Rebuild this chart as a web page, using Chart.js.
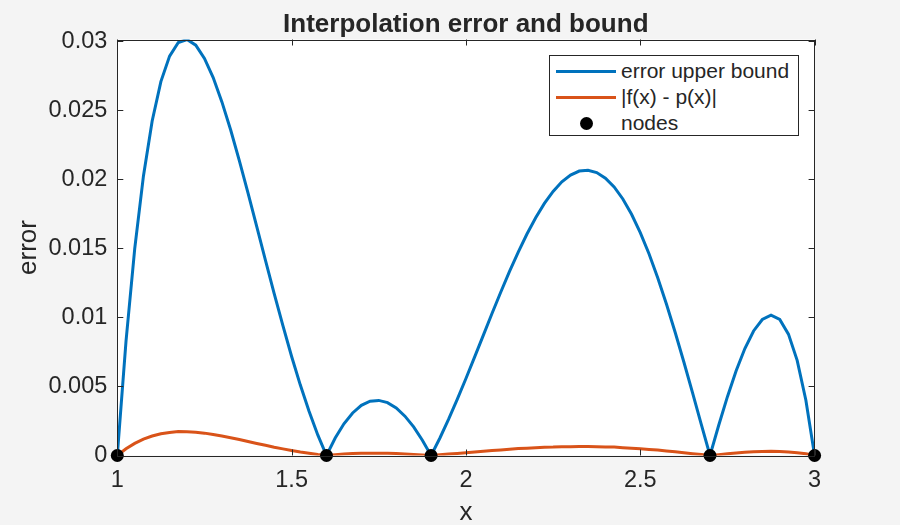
<!DOCTYPE html>
<html>
<head>
<meta charset="utf-8">
<script src="https://cdn.jsdelivr.net/npm/chart.js@4.4.1/dist/chart.umd.min.js"></script>
<style>
  html, body { margin:0; padding:0; background:#f4f4f4; }
  #wrap { position:relative; width:900px; height:525px; background:#f4f4f4; }
  #legend { position:absolute; left:549px; top:55px; width:250px; height:81px; background:#fff;
            border:1px solid #262626; box-sizing:border-box; font-family:"Liberation Sans", Arial, sans-serif;
            font-size:21px; color:#262626; }
  .row { position:absolute; left:0; width:100%; height:26px; }
  .swatch { position:absolute; left:6px; width:60px; height:3px; top:11.5px; }
  .dot { position:absolute; left:30px; width:13px; height:13px; border-radius:50%; background:#000; top:6.5px; }
  .lbl { position:absolute; left:71px; top:0; line-height:26px; white-space:nowrap; }
</style>
</head>
<body>
<div id="wrap">
  <canvas id="c" width="900" height="525"></canvas>
  <div id="legend"></div>
</div>
<script>
const titleText = "Interpolation error and bound";
const xLabel = "x";
const yLabel = "error";
const seriesNames = ["error upper bound", "|f(x) - p(x)|", "nodes"];

const xs = [1.000,1.025,1.050,1.075,1.100,1.125,1.150,1.175,1.200,1.225,1.250,1.275,1.300,1.325,1.350,1.375,1.400,1.425,1.450,1.475,1.500,1.525,1.550,1.575,1.600,1.625,1.650,1.675,1.700,1.725,1.750,1.775,1.800,1.825,1.850,1.875,1.900,1.925,1.950,1.975,2.000,2.025,2.050,2.075,2.100,2.125,2.150,2.175,2.200,2.225,2.250,2.275,2.300,2.325,2.350,2.375,2.400,2.425,2.450,2.475,2.500,2.525,2.550,2.575,2.600,2.625,2.650,2.675,2.700,2.725,2.750,2.775,2.800,2.825,2.850,2.875,2.900,2.925,2.950,2.975,3.000];

const boundVals = [0,0.00829,0.01499,0.02025,0.02423,0.02708,0.02893,0.02991,0.03013,0.02972,0.02876,0.02737,0.02561,0.02359,0.02136,0.01901,0.01658,0.01414,0.01173,0.00940,0.00717,0.00510,0.00320,0.00149,0,0.00127,0.00230,0.00308,0.00363,0.00393,0.00399,0.00383,0.00344,0.00285,0.00207,0.00111,0,0.00125,0.00261,0.00406,0.00558,0.00714,0.00872,0.01030,0.01184,0.01333,0.01473,0.01604,0.01722,0.01826,0.01913,0.01982,0.02031,0.02060,0.02066,0.02049,0.02009,0.01945,0.01858,0.01747,0.01614,0.01461,0.01288,0.01097,0.00893,0.00677,0.00453,0.00226,0,0.00219,0.00426,0.00614,0.00775,0.00902,0.00985,0.01016,0.00985,0.00879,0.00689,0.00400,0];

const errVals = [0,0.00049,0.00088,0.00119,0.00141,0.00158,0.00167,0.00173,0.00172,0.00168,0.00162,0.00152,0.00141,0.00129,0.00116,0.00101,0.00087,0.00074,0.00060,0.00048,0.00036,0.00025,0.00016,0.00007,0,0.00006,0.00011,0.00014,0.00016,0.00017,0.00017,0.00016,0.00014,0.00011,0.00008,0.00004,0,0.00005,0.00010,0.00015,0.00020,0.00025,0.00031,0.00036,0.00040,0.00045,0.00050,0.00053,0.00056,0.00060,0.00061,0.00064,0.00064,0.00065,0.00065,0.00064,0.00062,0.00061,0.00057,0.00053,0.00049,0.00044,0.00039,0.00033,0.00027,0.00020,0.00013,0.00007,0,0.00006,0.00013,0.00018,0.00023,0.00027,0.00029,0.00030,0.00029,0.00026,0.00020,0.00012,0];

const nodeX = [1, 1.6, 1.9, 2.7, 3];
const nodeY = [0, 0, 0, 0, 0];

const xTickValues = [1, 1.5, 2, 2.5, 3];
const xTickLabels = ["1", "1.5", "2", "2.5", "3"];
const yTickValues = [0, 0.005, 0.01, 0.015, 0.02, 0.025, 0.03];
const yTickLabels = ["0", "0.005", "0.01", "0.015", "0.02", "0.025", "0.03"];

const xMin = 1, xMax = 3, yMin = 0, yMax = 0.03013;

const FONT = '"Liberation Sans", Arial, sans-serif';
const TXT = '#262626';
const colors = ['#0072BD', '#D95319', '#000000'];

function pts(xa, ya) { return xa.map((x, i) => ({ x: x, y: ya[i] })); }

const boxPlugin = {
  id: 'box',
  afterDatasetsDraw(chart) {
    const { ctx, chartArea: a, scales } = chart;
    const L = 6;
    ctx.save();
    ctx.strokeStyle = TXT;
    ctx.lineWidth = 1;
    ctx.beginPath();
    xTickValues.forEach(v => {
      const px = Math.round(scales.x.getPixelForValue(v)) + 0.5;
      ctx.moveTo(px, a.bottom); ctx.lineTo(px, a.bottom - L);
      ctx.moveTo(px, a.top); ctx.lineTo(px, a.top + L);
    });
    yTickValues.forEach(v => {
      const py = Math.round(scales.y.getPixelForValue(v)) + 0.5;
      ctx.moveTo(a.left, py); ctx.lineTo(a.left + L, py);
      ctx.moveTo(a.right, py); ctx.lineTo(a.right - L, py);
    });
    ctx.stroke();
    ctx.strokeRect(Math.round(a.left) + 0.5, Math.round(a.top) + 0.5, Math.round(a.right - a.left), Math.round(a.bottom - a.top));
    ctx.restore();
  },
  beforeDraw(chart) {
    const { ctx, chartArea: a } = chart;
    ctx.save();
    ctx.fillStyle = '#f4f4f4';
    ctx.fillRect(0, 0, chart.width, chart.height);
    ctx.fillStyle = '#ffffff';
    ctx.fillRect(a.left, a.top, a.right - a.left, a.bottom - a.top);
    ctx.restore();
  }
};

const chart = new Chart(document.getElementById('c'), {
  type: 'line',
  data: {
    datasets: [
      { label: seriesNames[0], data: pts(xs, boundVals), borderColor: colors[0], borderWidth: 3,
        pointRadius: 0, tension: 0, fill: false, order: 2 },
      { label: seriesNames[1], data: pts(xs, errVals), borderColor: colors[1], borderWidth: 3,
        pointRadius: 0, tension: 0, fill: false, order: 1 },
      { label: seriesNames[2], data: pts(nodeX, nodeY), showLine: false, pointRadius: 6.5,
        pointBackgroundColor: colors[2], pointBorderColor: colors[2], pointBorderWidth: 0, order: 0, clip: false }
    ]
  },
  options: {
    responsive: false,
    animation: false,
    devicePixelRatio: 1,
    layout: { padding: { left: 31.6, right: 0, top: 0, bottom: 0 } },
    plugins: {
      legend: { display: false },
      tooltip: { enabled: false },
      title: { display: true, text: titleText, color: TXT,
               font: { family: FONT, size: 26, weight: 'bold', lineHeight: 1.2 },
               padding: { top: 9, bottom: -0.7 } }
    },
    scales: {
      x: {
        type: 'linear', min: xMin, max: xMax,
        afterBuildTicks: s => { s.ticks = xTickValues.map(v => ({ value: v })); },
        afterFit: s => { s.height = 69.5; },
        grid: { display: false, drawTicks: false },
        border: { display: false },
        ticks: { color: TXT, padding: 11, maxRotation: 0, autoSkip: false,
                 font: { family: FONT, size: 23.5 },
                 callback: (v) => { const i = xTickValues.indexOf(v); return i >= 0 ? xTickLabels[i] : ''; } },
        title: { display: true, text: xLabel, color: TXT, font: { family: FONT, size: 26, lineHeight: 1.1 },
                 padding: { top: 0, bottom: -2.5 } }
      },
      y: {
        type: 'linear', min: yMin, max: yMax,
        afterBuildTicks: s => { s.ticks = yTickValues.map(v => ({ value: v })); },
        afterFit: s => { s.width = 85.7; },
        grid: { display: false, drawTicks: false },
        border: { display: false },
        ticks: { color: TXT, padding: 10, autoSkip: false,
                 font: { family: FONT, size: 23.5 },
                 callback: (v) => { const i = yTickValues.indexOf(v); return i >= 0 ? yTickLabels[i] : ''; } },
        title: { display: true, text: yLabel, color: TXT, font: { family: FONT, size: 26, lineHeight: 1.2 },
                 padding: { top: -18.5, bottom: 0 } }
      },
      y2: {
        type: 'linear', position: 'right', min: yMin, max: yMax,
        afterFit: s => { s.width = 85.4; },
        grid: { display: false, drawTicks: false },
        border: { display: false },
        ticks: { display: false }
      }
    }
  },
  plugins: [boxPlugin]
});

// HTML legend built from the datasets
const legend = document.getElementById('legend');
chart.data.datasets.forEach((ds, i) => {
  const row = document.createElement('div');
  row.className = 'row';
  row.style.top = (2 + i * 26) + 'px';
  const mark = document.createElement('div');
  if (ds.showLine === false) {
    mark.className = 'dot';
    mark.style.background = ds.pointBackgroundColor;
  } else {
    mark.className = 'swatch';
    mark.style.background = ds.borderColor;
  }
  const lbl = document.createElement('div');
  lbl.className = 'lbl';
  lbl.textContent = ds.label;
  row.appendChild(mark);
  row.appendChild(lbl);
  legend.appendChild(row);
});
</script>
</body>
</html>
